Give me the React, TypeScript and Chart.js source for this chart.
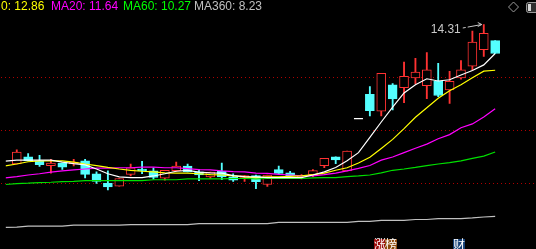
import React, { useEffect, useRef } from "react";
import { Chart, registerables } from "chart.js";

Chart.register(...registerables);

// ---- candle data (index 0..42) ----
const opens = [9.89, 10.12, 9.98, 9.84, 9.92, 9.89, 9.99, 9.58, 9.28, 9.19, 9.56, 9.73, 9.67, 9.44, 9.68, 9.82, 9.64, 9.48, 9.66, 9.48, 9.46, 9.52, 9.24, 9.71, 9.61, 9.49, 9.55, 9.84, 10.12, 9.67, 11.33, 12.10, 11.56, 12.40, 12.31, 12.62, 12.37, 12.52, 12.24, 12.62, 12.99, 13.51, 13.80];
const highs = [10.34, 10.22, 10.16, 10.04, 9.92, 10.04, 10.04, 9.64, 9.67, 9.43, 9.89, 9.97, 9.77, 9.69, 9.95, 9.89, 9.71, 9.63, 9.92, 9.58, 9.53, 9.54, 9.54, 9.82, 9.66, 9.55, 9.71, 10.07, 10.12, 10.30, 11.33, 12.34, 12.76, 12.44, 13.12, 13.24, 13.42, 13.08, 12.83, 13.17, 14.10, 14.31, 13.80];
const lows = [9.89, 9.99, 9.81, 9.60, 9.72, 9.83, 9.45, 9.27, 9.07, 9.19, 9.51, 9.58, 9.41, 9.38, 9.66, 9.64, 9.36, 9.43, 9.39, 9.34, 9.34, 9.11, 9.18, 9.59, 9.52, 9.42, 9.49, 9.77, 9.90, 9.67, 11.33, 11.41, 11.41, 11.60, 11.83, 12.43, 11.96, 12.02, 11.81, 12.58, 12.87, 13.30, 13.39];
const closes = [10.27, 9.99, 9.87, 9.92, 9.79, 9.95, 9.56, 9.34, 9.16, 9.43, 9.77, 9.67, 9.46, 9.69, 9.82, 9.64, 9.54, 9.63, 9.48, 9.38, 9.52, 9.33, 9.54, 9.59, 9.52, 9.52, 9.68, 10.07, 10.02, 10.30, 11.33, 11.58, 12.76, 11.95, 12.67, 12.80, 12.87, 12.06, 12.51, 12.87, 13.75, 14.03, 13.39];

// ---- moving averages (index -1..42) ----
const ma5 = [9.98, 10.01, 10.01, 10.01, 10.01, 9.95, 9.90, 9.86, 9.73, 9.58, 9.48, 9.46, 9.46, 9.51, 9.58, 9.66, 9.69, 9.63, 9.61, 9.60, 9.52, 9.49, 9.48, 9.46, 9.46, 9.46, 9.46, 9.54, 9.64, 9.78, 9.99, 10.25, 10.73, 11.22, 11.69, 12.14, 12.40, 12.59, 12.52, 12.56, 12.71, 12.85, 13.03, 13.39];
const ma10 = [9.83, 9.89, 9.96, 9.99, 9.99, 9.99, 9.95, 9.89, 9.84, 9.78, 9.73, 9.69, 9.66, 9.64, 9.61, 9.60, 9.60, 9.58, 9.55, 9.54, 9.51, 9.48, 9.46, 9.48, 9.48, 9.50, 9.51, 9.55, 9.60, 9.69, 9.77, 9.92, 10.10, 10.38, 10.67, 11.01, 11.37, 11.67, 11.97, 12.21, 12.40, 12.62, 12.83, 12.86];
const ma20 = [9.45, 9.49, 9.54, 9.58, 9.63, 9.67, 9.70, 9.73, 9.76, 9.76, 9.77, 9.77, 9.79, 9.79, 9.77, 9.77, 9.74, 9.71, 9.70, 9.67, 9.65, 9.64, 9.60, 9.59, 9.56, 9.54, 9.51, 9.51, 9.55, 9.60, 9.67, 9.75, 9.84, 10.01, 10.11, 10.25, 10.39, 10.52, 10.69, 10.82, 11.04, 11.16, 11.38, 11.64];
const ma60 = [9.24, 9.27, 9.28, 9.30, 9.31, 9.33, 9.34, 9.36, 9.36, 9.36, 9.36, 9.36, 9.36, 9.39, 9.39, 9.39, 9.42, 9.42, 9.42, 9.42, 9.43, 9.43, 9.42, 9.43, 9.43, 9.43, 9.43, 9.45, 9.46, 9.46, 9.49, 9.51, 9.54, 9.61, 9.69, 9.73, 9.78, 9.84, 9.89, 9.93, 9.99, 10.07, 10.14, 10.27];
const ma360 = [7.88, 7.89, 7.92, 7.92, 7.92, 7.92, 7.95, 7.95, 7.95, 7.95, 7.95, 7.97, 7.97, 7.97, 7.97, 7.97, 7.97, 8.00, 8.00, 8.00, 8.00, 8.00, 8.00, 8.00, 8.04, 8.04, 8.04, 8.04, 8.04, 8.04, 8.04, 8.07, 8.07, 8.10, 8.10, 8.10, 8.13, 8.13, 8.16, 8.16, 8.16, 8.18, 8.21, 8.23];

// ---- price levels of the dotted guide lines ----
const gridLevels = [12.66, 10.97, 9.30];

// ---- event markers under the chart ----
const markerIndex = [32, 33, 39];
const markerText = ["涨", "榜", "财"];
const markerColor = ["#9b0b0b", "#8c4a0c", "#143f76"];

const UP = "#ff3232";
const DOWN = "#54ffff";
const FONT = '"Liberation Sans", Arial, sans-serif';

const last = (a: number[]) => a[a.length - 1];

export default function App() {
  const ref = useRef<HTMLCanvasElement | null>(null);

  useEffect(() => {
    const canvas = ref.current;
    if (!canvas) return;
    const n = closes.length;
    const idx = Array.from({ length: n }, (_, i) => i);
    const isDoji = (i: number) => opens[i] === closes[i];
    const isUp = (i: number) => closes[i] > opens[i];

    const lineDs = (label: string, arr: number[], color: string) => ({
      type: "line" as const,
      label,
      data: arr.map((v, k) => ({ x: k - 1, y: v })),
      borderColor: color,
      borderWidth: 1.2,
      pointRadius: 0,
      tension: 0,
      fill: false,
      order: 0,
    });

    const decor = {
      id: "decor",
      beforeDraw(chart: any) {
        const c = chart.ctx;
        c.save();
        c.fillStyle = "#000";
        c.fillRect(0, 0, chart.width, chart.height);
        c.restore();
      },
      beforeDatasetsDraw(chart: any) {
        const c = chart.ctx;
        const y = chart.scales.y;
        c.save();
        c.strokeStyle = "#b00000";
        c.lineWidth = 1;
        c.setLineDash([1, 3]);
        gridLevels.forEach((v) => {
          const py = Math.round(y.getPixelForValue(v)) + 0.5;
          c.beginPath();
          c.moveTo(1, py);
          c.lineTo(chart.width, py);
          c.stroke();
        });
        c.restore();
      },
      afterDraw(chart: any) {
        const c = chart.ctx;
        const xs = chart.scales.x;
        const ys = chart.scales.y;
        c.save();
        // legend
        c.font = `12px ${FONT}`;
        c.textBaseline = "alphabetic";
        const items = [
          { t: `0: ${last(ma10).toFixed(2)}`, col: "#ffff00", x: 1 },
          { t: `MA20: ${last(ma20).toFixed(2)}`, col: "#ff00ff", x: 51 },
          { t: `MA60: ${last(ma60).toFixed(2)}`, col: "#00ff00", x: 123 },
          { t: `MA360: ${last(ma360).toFixed(2)}`, col: "#c0c0c0", x: 194 },
        ];
        items.forEach((it) => {
          c.fillStyle = it.col;
          c.fillText(it.t, it.x, 10);
        });

        // highest price annotation
        let hi = 0;
        highs.forEach((v, i) => {
          if (v > highs[hi]) hi = i;
        });
        const hx = xs.getPixelForValue(hi);
        const hy = ys.getPixelForValue(highs[hi]);
        c.fillStyle = "#c8c8c8";
        c.textAlign = "right";
        c.font = `12px ${FONT}`;
        c.fillText(highs[hi].toFixed(2), hx - 23, hy + 8.5);
        c.strokeStyle = "#c8c8c8";
        c.lineWidth = 1;
        c.setLineDash([3, 2, 30]);
        c.beginPath();
        c.moveTo(hx - 21, hy + 3.5);
        c.lineTo(hx - 2, hy);
        c.stroke();
        c.setLineDash([]);
        c.beginPath();
        c.moveTo(hx - 6, hy - 2);
        c.lineTo(hx - 2, hy);
        c.lineTo(hx - 6, hy + 2);
        c.stroke();

        // top-right icons
        c.strokeStyle = "#9a9a9a";
        c.beginPath();
        c.moveTo(513.5, 2);
        c.lineTo(518.5, 7);
        c.lineTo(513.5, 12);
        c.lineTo(508.5, 7);
        c.closePath();
        c.stroke();
        c.fillStyle = "#303030";
        c.beginPath();
        c.roundRect(526.5, 2.5, 16, 10, 2);
        c.fill();
        c.stroke();
        c.fillStyle = "#d8d8d8";
        c.fillRect(528, 4, 3, 7);

        // event markers
        c.textAlign = "center";
        c.textBaseline = "top";
        c.font = `12px "Noto Sans CJK SC", sans-serif`;
        markerIndex.forEach((mi, k) => {
          const px = xs.getPixelForValue(mi);
          const left = Math.round(px - 7.7);
          c.fillStyle = markerColor[k];
          c.fillRect(left, 239, 12, 12);
          c.fillStyle = "#ffffff";
          c.fillText(markerText[k], left + 6, 238);
        });
        c.restore();
      },
    };

    const chart = new Chart(canvas, {
      type: "bar",
      data: {
        datasets: [
          lineDs("MA5", ma5, "#ffffff"),
          lineDs("MA10", ma10, "#ffff00"),
          lineDs("MA20", ma20, "#ff00ff"),
          lineDs("MA60", ma60, "#00e000"),
          lineDs("MA360", ma360, "#c0c0c0"),
          {
            type: "scatter" as const,
            label: "doji",
            data: idx.filter(isDoji).map((i) => ({ x: i, y: closes[i] })),
            pointStyle: "line",
            radius: 4.5,
            borderColor: "#ffffff",
            borderWidth: 1.2,
            order: 1,
          },
          {
            type: "bar" as const,
            label: "body",
            data: idx.filter((i) => !isDoji(i)).map((i) => ({ x: i, y: [opens[i], closes[i]] })),
            backgroundColor: (ctx: any) => (ctx.raw && isUp(ctx.raw.x) ? "#000000" : DOWN),
            borderColor: (ctx: any) => (ctx.raw && isUp(ctx.raw.x) ? UP : DOWN),
            borderWidth: 1,
            borderSkipped: false,
            barThickness: 9,
            grouped: false,
            order: 2,
          },
          {
            type: "bar" as const,
            label: "wick",
            data: idx.filter((i) => !isDoji(i)).map((i) => ({ x: i, y: [lows[i], highs[i]] })),
            backgroundColor: (ctx: any) => (ctx.raw && isUp(ctx.raw.x) ? UP : DOWN),
            borderWidth: 0,
            barThickness: 1.2,
            grouped: false,
            order: 3,
          },
        ] as any,
      },
      options: {
        responsive: false,
        animation: false,
        devicePixelRatio: 1,
        events: [],
        layout: { padding: 0 },
        plugins: { legend: { display: false }, tooltip: { enabled: false } },
        scales: {
          x: { type: "linear", min: -0.971, max: 45.085, offset: false, display: false },
          y: { type: "linear", min: 7.376, max: 14.906, display: false },
        },
      } as any,
      plugins: [decor],
    });
    return () => chart.destroy();
  }, []);

  return (
    <div style={{ position: "fixed", left: 0, top: 0, width: 536, height: 249, background: "#000", overflow: "hidden" }}>
      <canvas ref={ref} width={536} height={249} style={{ display: "block" }} />
    </div>
  );
}
